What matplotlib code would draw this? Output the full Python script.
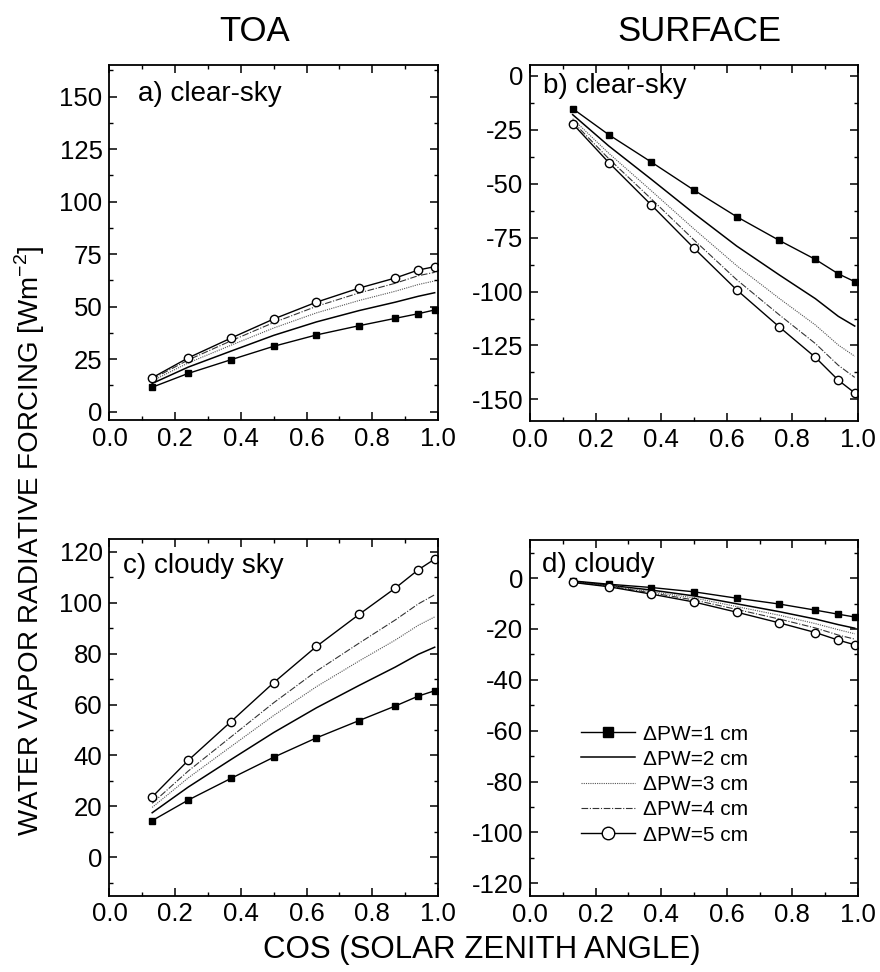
import matplotlib
matplotlib.use('Agg')
import matplotlib.pyplot as plt
from matplotlib.ticker import MultipleLocator, AutoMinorLocator

plt.rcParams['font.family'] = ['Liberation Sans', 'DejaVu Sans']
plt.rcParams['axes.unicode_minus'] = False

# cos(solar zenith angle)
mu = [0.13, 0.24, 0.37, 0.50, 0.63, 0.76, 0.87, 0.94, 0.99]
series_labels = ['\u0394PW=1 cm', '\u0394PW=2 cm', '\u0394PW=3 cm', '\u0394PW=4 cm', '\u0394PW=5 cm']

# a) TOA clear-sky
toa_clear_1 = [11.6, 18.2, 24.7, 31.1, 36.5, 40.9, 44.4, 46.6, 48.4]
toa_clear_2 = [13.4, 21.2, 28.8, 36.3, 42.7, 48.1, 52.1, 54.9, 56.6]
toa_clear_3 = [14.6, 23.2, 31.6, 39.8, 47.0, 52.9, 57.3, 60.5, 62.2]
toa_clear_4 = [15.5, 24.6, 33.7, 42.4, 50.1, 56.5, 61.1, 64.7, 66.3]
toa_clear_5 = [16.1, 25.6, 35.0, 44.1, 52.1, 58.8, 63.6, 67.4, 69.0]

# b) surface clear-sky
sfc_clear_1 = [-15.2, -27.3, -40.0, -53.0, -65.3, -76.3, -85.1, -91.8, -95.4]
sfc_clear_2 = [-18.0, -32.5, -48.0, -63.8, -78.9, -92.3, -103.3, -111.5, -116.0]
sfc_clear_3 = [-19.9, -35.9, -53.3, -71.0, -88.0, -103.2, -115.5, -124.8, -130.0]
sfc_clear_4 = [-21.2, -38.4, -57.1, -76.1, -94.5, -110.8, -124.1, -134.2, -139.8]
sfc_clear_5 = [-22.2, -40.2, -59.9, -79.9, -99.2, -116.4, -130.5, -141.1, -147.0]

# c) TOA cloudy sky
toa_cloud_1 = [14.4, 22.5, 31.0, 39.3, 46.9, 53.7, 59.4, 63.3, 65.4]
toa_cloud_2 = [17.5, 27.6, 38.4, 49.0, 58.7, 67.5, 74.7, 79.7, 82.5]
toa_cloud_3 = [19.6, 31.2, 43.5, 55.7, 67.0, 77.1, 85.3, 91.1, 94.4]
toa_cloud_4 = [21.2, 33.9, 47.3, 60.7, 73.1, 84.1, 93.2, 99.5, 103.1]
toa_cloud_5 = [23.7, 38.1, 53.3, 68.6, 82.8, 95.4, 105.7, 112.9, 117.1]

# d) surface cloudy
sfc_cloud_1 = [-1.1, -2.4, -3.7, -5.4, -7.9, -10.2, -12.6, -14.2, -15.3]
sfc_cloud_2 = [-1.3, -2.8, -4.7, -7.0, -10.1, -13.2, -16.1, -18.3, -19.7]
sfc_cloud_3 = [-1.5, -3.0, -5.3, -7.8, -11.2, -14.6, -17.9, -20.3, -21.9]
sfc_cloud_4 = [-1.6, -3.2, -5.8, -8.6, -12.3, -16.1, -19.6, -22.4, -24.0]
sfc_cloud_5 = [-1.7, -3.4, -6.3, -9.4, -13.4, -17.6, -21.4, -24.4, -26.2]

styles = [
    dict(color='black', lw=1.0, ls='-', marker='s', ms=5, mfc='black', mec='black'),
    dict(color='black', lw=1.1, ls='-'),
    dict(color='#555555', lw=0.8, ls=(0, (1, 1))),
    dict(color='#333333', lw=0.8, ls=(0, (6, 1.5, 1, 1.5))),
    dict(color='black', lw=1.0, ls='-', marker='o', ms=6, mfc='white', mec='black'),
]

fig = plt.figure(figsize=(8.8, 9.72), dpi=100)
ax_a = fig.add_axes([0.1244, 0.5679, 0.3733, 0.3652])
ax_b = fig.add_axes([0.6023, 0.5669, 0.3727, 0.3662])
ax_c = fig.add_axes([0.1244, 0.0787, 0.3733, 0.3668])
ax_d = fig.add_axes([0.6023, 0.0782, 0.3727, 0.3663])

panels = [
    (ax_a, [toa_clear_1, toa_clear_2, toa_clear_3, toa_clear_4, toa_clear_5],
     'a) clear-sky', (-4, 165), 25, (0.087, 0.955)),
    (ax_b, [sfc_clear_1, sfc_clear_2, sfc_clear_3, sfc_clear_4, sfc_clear_5],
     'b) clear-sky', (-160, 5), 25, (0.040, 0.978)),
    (ax_c, [toa_cloud_1, toa_cloud_2, toa_cloud_3, toa_cloud_4, toa_cloud_5],
     'c) cloudy sky', (-15, 125), 20, (0.041, 0.962)),
    (ax_d, [sfc_cloud_1, sfc_cloud_2, sfc_cloud_3, sfc_cloud_4, sfc_cloud_5],
     'd) cloudy', (-125, 15), 20, (0.037, 0.965)),
]

for ax, data, label, ylim, ystep, tpos in panels:
    for vals, st, lab in zip(data, styles, series_labels):
        ax.plot(mu, vals, label=lab, **st)
    ax.set_xlim(0, 1.0)
    ax.set_ylim(*ylim)
    ax.xaxis.set_major_locator(MultipleLocator(0.2))
    ax.xaxis.set_minor_locator(AutoMinorLocator(2))
    ax.yaxis.set_major_locator(MultipleLocator(ystep))
    ax.yaxis.set_minor_locator(AutoMinorLocator(2))
    ax.xaxis.set_major_formatter(plt.FormatStrFormatter('%.1f'))
    ax.tick_params(which='both', direction='in', top=True, right=True, labelsize=18.5)
    ax.tick_params(which='major', length=6, width=1.1, pad=5)
    ax.tick_params(which='minor', length=3, width=1.0)
    for sp in ax.spines.values():
        sp.set_linewidth(1.3)
    ax.text(tpos[0], tpos[1], label, transform=ax.transAxes, ha='left', va='top', fontsize=20)

ax_d.legend(loc='upper left', bbox_to_anchor=(0.13, 0.505), frameon=False, fontsize=15,
            handlelength=2.6, handletextpad=0.4, labelspacing=0.3, markerscale=1.5,
            borderaxespad=0)

fig.text(0.289, 0.968, 'TOA', ha='center', va='center', fontsize=25)
fig.text(0.795, 0.968, 'SURFACE', ha='center', va='center', fontsize=25)
fig.text(0.034, 0.444, 'WATER VAPOR RADIATIVE FORCING [Wm$^{\\mathregular{-2}}$]',
         rotation=90, ha='center', va='center', fontsize=20)
fig.text(0.548, 0.023, 'COS (SOLAR ZENITH ANGLE)', ha='center', va='center', fontsize=22.5)

fig.savefig('out.png', dpi=100)
